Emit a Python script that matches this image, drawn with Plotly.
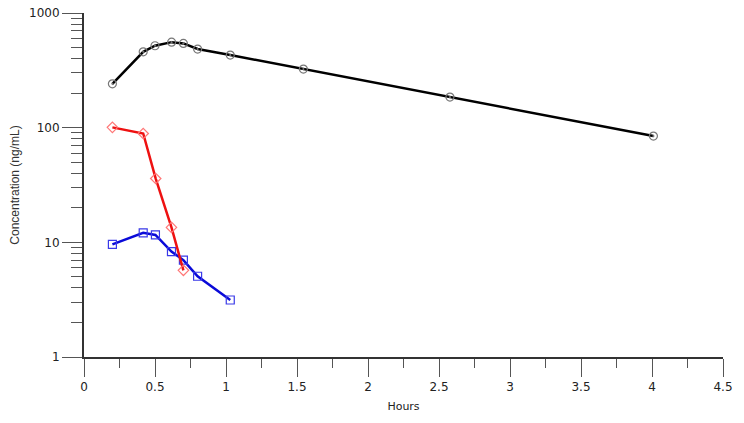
import plotly.graph_objects as go

hours_black = [0.2, 0.417, 0.5, 0.617, 0.7, 0.8, 1.03, 1.545, 2.577, 4.01]
conc_black = [241, 459, 518, 557, 543, 485, 430, 324, 185, 84.5]

hours_red = [0.2, 0.417, 0.505, 0.616, 0.7]
conc_red = [100.6, 89, 36, 13.5, 5.7]

hours_blue = [0.2, 0.417, 0.503, 0.616, 0.7, 0.8, 1.03]
conc_blue = [9.6, 12.1, 11.6, 8.3, 7.0, 5.06, 3.14]

x_ticks = [0, 0.5, 1, 1.5, 2, 2.5, 3, 3.5, 4, 4.5]
x_minor = [0.25, 0.75, 1.25, 1.75, 2.25, 2.75, 3.25, 3.75, 4.25]
y_ticks = [1, 10, 100, 1000]
y_minor = [m * d for d in (1, 10, 100) for m in range(2, 10)]

fig = go.Figure()

series = [
    (hours_black, conc_black, "#000000", "circle-open-dot", "#777777"),
    (hours_blue, conc_blue, "#0a0ad8", "square-open", "#3a3ae8"),
    (hours_red, conc_red, "#ee1111", "diamond-open", "#ff7777"),
]
for xs, ys, col, sym, mcol in series:
    fig.add_trace(go.Scatter(
        x=xs, y=ys, mode="lines+markers",
        line=dict(color=col, width=2.5),
        marker=dict(symbol=sym, size=8, color=mcol, line=dict(color=mcol, width=1.2)),
        showlegend=False,
    ))

tick_font = dict(family="DejaVu Sans, Verdana, sans-serif", size=12, color="#222222")

fig.update_layout(
    width=744, height=423,
    margin=dict(l=84, r=21, t=13, b=66, autoexpand=False),
    paper_bgcolor="white", plot_bgcolor="white",
    xaxis=dict(
        range=[0, 4.5], tickvals=x_ticks, ticktext=[f"{v:g}" for v in x_ticks],
        ticks="outside", ticklen=18, tickwidth=1.3, tickcolor="#555555",
        showline=True, linecolor="#333333", linewidth=2, automargin=False,
        showgrid=False, zeroline=False, tickfont=tick_font,
        minor=dict(tickmode="array", tickvals=x_minor, ticks="outside",
                   ticklen=9, tickwidth=1.3, tickcolor="#555555", showgrid=False),
        title=dict(text="Hours", font=dict(family="DejaVu Sans, Verdana, sans-serif", size=11, color="#222222"), standoff=9),
    ),
    yaxis=dict(
        type="log", range=[0, 3], tickvals=y_ticks, ticktext=[str(v) for v in y_ticks],
        ticks="outside", ticklen=20, tickwidth=1.3, tickcolor="#555555",
        showline=True, linecolor="#333333", linewidth=2, automargin=False,
        showgrid=False, zeroline=False, tickfont=tick_font,
        minor=dict(tickmode="array", tickvals=y_minor, ticks="outside",
                   ticklen=11, tickwidth=1.3, tickcolor="#555555", showgrid=False),
        title=dict(text="Concentration (ng/mL)", font=dict(family="Liberation Sans, Arial, sans-serif", size=12, color="#333333"), standoff=7),
    ),
)

fig.write_html("out.html", config={"displayModeBar": False},
               post_script="document.body.style.margin='0';")
